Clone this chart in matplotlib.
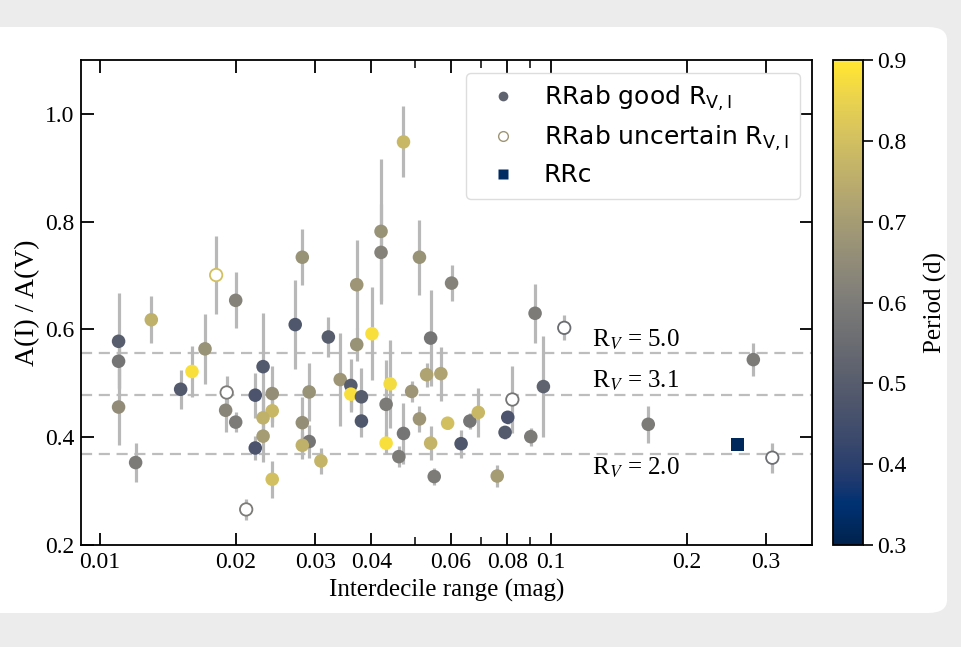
import matplotlib
matplotlib.use("Agg")
import matplotlib.pyplot as plt
import numpy as np
from matplotlib.lines import Line2D
from matplotlib.patches import FancyBboxPatch
from matplotlib import colors as mcolors
from matplotlib.ticker import NullFormatter, FixedLocator, FixedFormatter

# ---------------- data ----------------
# RRab with good R_V,I (filled circles)
good_x = [0.0110, 0.0110, 0.0110, 0.0120, 0.0130, 0.0151, 0.0160, 0.0171, 0.0200, 0.0190,
          0.0200, 0.0230, 0.0221, 0.0241, 0.0241, 0.0230, 0.0230, 0.0221, 0.0241, 0.0271,
          0.0281, 0.0291, 0.0281, 0.0291, 0.0281, 0.0309, 0.0321, 0.0341, 0.0360, 0.0360,
          0.0380, 0.0380, 0.0371, 0.0371, 0.0401, 0.0420, 0.0420, 0.0431, 0.0440, 0.0431,
          0.0471, 0.0460, 0.0471, 0.0491, 0.0511, 0.0511, 0.0530, 0.0541, 0.0541, 0.0551,
          0.0570, 0.0590, 0.0602, 0.0632, 0.0661, 0.0690, 0.0760, 0.0791, 0.0802, 0.0902,
          0.0922, 0.0962, 0.1643, 0.2809]
good_y = [0.578, 0.541, 0.456, 0.353, 0.618, 0.489, 0.522, 0.564, 0.654, 0.450,
          0.428, 0.531, 0.478, 0.481, 0.449, 0.436, 0.402, 0.380, 0.322, 0.609,
          0.734, 0.484, 0.427, 0.392, 0.385, 0.356, 0.586, 0.507, 0.496, 0.480,
          0.475, 0.430, 0.683, 0.572, 0.592, 0.782, 0.743, 0.461, 0.499, 0.389,
          0.407, 0.364, 0.948, 0.485, 0.734, 0.434, 0.516, 0.584, 0.389, 0.327,
          0.518, 0.426, 0.686, 0.388, 0.430, 0.446, 0.328, 0.409, 0.437, 0.401,
          0.630, 0.494, 0.424, 0.544]
good_err = [0.089, 0.050, 0.070, 0.036, 0.044, 0.036, 0.048, 0.065, 0.052, 0.040,
            0.019, 0.100, 0.042, 0.052, 0.030, 0.040, 0.048, 0.022, 0.034, 0.083,
            0.052, 0.053, 0.048, 0.031, 0.025, 0.024, 0.037, 0.087, 0.050, 0.030,
            0.054, 0.030, 0.083, 0.030, 0.086, 0.135, 0.090, 0.083, 0.081, 0.020,
            0.057, 0.019, 0.066, 0.020, 0.070, 0.024, 0.022, 0.089, 0.032, 0.015,
            0.050, 0.010, 0.034, 0.026, 0.015, 0.046, 0.020, 0.012, 0.012, 0.017,
            0.055, 0.094, 0.034, 0.031]
good_period = [0.50, 0.58, 0.65, 0.60, 0.76, 0.49, 0.88, 0.67, 0.62, 0.63,
               0.60, 0.49, 0.47, 0.66, 0.78, 0.76, 0.70, 0.47, 0.80, 0.48,
               0.67, 0.67, 0.66, 0.58, 0.76, 0.77, 0.50, 0.68, 0.50, 0.88,
               0.50, 0.48, 0.68, 0.67, 0.88, 0.67, 0.62, 0.60, 0.87, 0.88,
               0.58, 0.60, 0.78, 0.68, 0.67, 0.68, 0.72, 0.58, 0.77, 0.60,
               0.72, 0.80, 0.62, 0.48, 0.58, 0.78, 0.70, 0.49, 0.47, 0.60,
               0.60, 0.52, 0.60, 0.60]

# RRab with uncertain R_V,I (open circles)
unc_x = [0.0181, 0.0191, 0.0211, 0.0821, 0.1070, 0.3095]
unc_y = [0.701, 0.483, 0.266, 0.470, 0.603, 0.362]
unc_err = [0.072, 0.030, 0.020, 0.062, 0.023, 0.028]
unc_period = [0.80, 0.60, 0.60, 0.58, 0.55, 0.56]

# RRc (square)
rrc_x = [0.2589]
rrc_y = [0.386]
rrc_period = [0.32]

# reference lines
rv_values = ["5.0", "3.1", "2.0"]
rv_ratio = [0.556, 0.479, 0.368]
rv_text_y = [0.580, 0.504, 0.344]

x_ticks = [0.01, 0.02, 0.03, 0.04, 0.06, 0.08, 0.1, 0.2, 0.3]
x_ticklabels = ["0.01", "0.02", "0.03", "0.04", "0.06", "0.08", "0.1", "0.2", "0.3"]
x_minor = [0.05, 0.07, 0.09]
y_ticks = [0.2, 0.4, 0.6, 0.8, 1.0]
cbar_ticks = [0.3, 0.4, 0.5, 0.6, 0.7, 0.8, 0.9]

# ---------------- style ----------------
plt.rcParams["font.family"] = ["Liberation Serif", "DejaVu Serif"]
plt.rcParams["mathtext.fontset"] = "stix"

W, H = 961, 647
fig = plt.figure(figsize=(W / 100, H / 100), dpi=100, facecolor="#ececec")

# white card background
card = FancyBboxPatch((-20 / W, (H - 613) / H), 967 / W, 586 / H,
                      boxstyle="round,pad=0,rounding_size=0.02",
                      transform=fig.transFigure, facecolor="white",
                      edgecolor="none", zorder=-10)
fig.patches.append(card)

ax = fig.add_axes([81 / W, 1 - 545 / H, (812 - 81) / W, (545 - 60) / H])
cax = fig.add_axes([833 / W, 1 - 545 / H, (863 - 833) / W, (545 - 60) / H])

cmap = plt.get_cmap("cividis")
norm = mcolors.Normalize(vmin=0.3, vmax=0.9)

ax.set_xscale("log")
ax.set_xlim(0.00908, 0.379)
ax.set_ylim(0.2, 1.1)

# error bars
err_kw = dict(fmt="none", ecolor="#b8b8b8", elinewidth=2.3, capsize=0, zorder=1)
ax.errorbar(good_x, good_y, yerr=good_err, **err_kw)
ax.errorbar(unc_x, unc_y, yerr=unc_err, **err_kw)

# reference lines + labels
for v, r, ty in zip(rv_values, rv_ratio, rv_text_y):
    ax.axhline(r, color="#bdbdbd", lw=1.6, ls=(0, (5, 3)), zorder=0.5)
    ax.text(0.123, ty, r"R$_V$ = " + v, fontsize=18, va="center", ha="left")

# points
ax.scatter(good_x, good_y, c=good_period, cmap=cmap, norm=norm, s=95,
           edgecolors="none", zorder=3)
ax.scatter(unc_x, unc_y, facecolors="white", edgecolors=cmap(norm(np.array(unc_period))),
           s=80, linewidths=1.3, zorder=3)
ax.scatter(rrc_x, rrc_y, c=rrc_period, cmap=cmap, norm=norm, marker="s", s=90,
           edgecolors="none", zorder=3)

# axes formatting
ax.xaxis.set_major_locator(FixedLocator(x_ticks))
ax.xaxis.set_major_formatter(FixedFormatter(x_ticklabels))
ax.xaxis.set_minor_locator(FixedLocator(x_minor))
ax.xaxis.set_minor_formatter(NullFormatter())
ax.set_yticks(y_ticks)
ax.set_yticklabels([f"{v:.1f}" for v in y_ticks])
ax.tick_params(which="major", direction="in", top=True, right=True, length=9,
               width=1.3, labelsize=17, pad=5)
ax.tick_params(which="minor", direction="in", top=True, right=True, length=6,
               width=1.1)
for sp in ax.spines.values():
    sp.set_linewidth(1.3)
ax.set_xlabel("Interdecile range (mag)", fontsize=18, labelpad=4)
ax.set_ylabel("A(I) / A(V)", fontsize=20, labelpad=3)

# legend
handles = [
    Line2D([], [], ls="none", marker="o", markersize=7, markerfacecolor=cmap(norm(0.52)),
           markeredgecolor="none"),
    Line2D([], [], ls="none", marker="o", markersize=7, markerfacecolor="white",
           markeredgecolor=cmap(norm(0.68)), markeredgewidth=1.0),
    Line2D([], [], ls="none", marker="s", markersize=7, markerfacecolor=cmap(norm(0.33)),
           markeredgecolor="none"),
]
labels = [r"RRab good R$_{\rm V,I}$", r"RRab uncertain R$_{\rm V,I}$", "RRc"]
leg = ax.legend(handles, labels, loc="upper right", bbox_to_anchor=(1 - 12 / 731, 1 - 13 / 485),
                borderaxespad=0.0,
                prop=dict(family="DejaVu Sans", size=18, math_fontfamily="dejavusans"),
                frameon=True, fancybox=True, framealpha=1.0, edgecolor="#dddddd",
                borderpad=0.45, labelspacing=0.42, handlelength=2.0, handletextpad=0.65)

# colorbar
sm = plt.cm.ScalarMappable(cmap=cmap, norm=norm)
cb = fig.colorbar(sm, cax=cax)
cb.set_ticks(cbar_ticks)
cb.set_ticklabels([f"{v:.1f}" for v in cbar_ticks])
cb.ax.tick_params(labelsize=17, length=7, width=1.2, direction="out")
cb.outline.set_linewidth(1.3)
cb.set_label("Period (d)", fontsize=18, labelpad=12)

fig.savefig("out.png", dpi=100, facecolor=fig.get_facecolor())
